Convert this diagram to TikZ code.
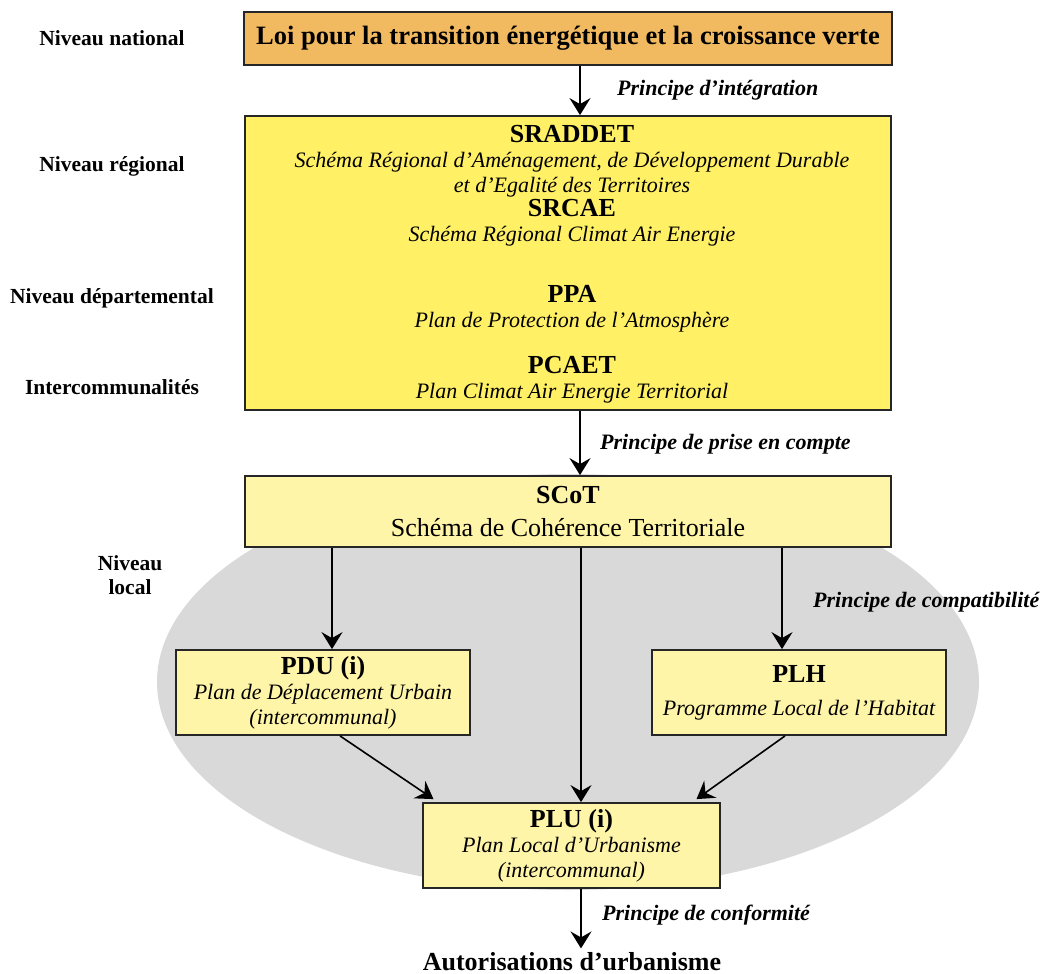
\documentclass[tikz,border=0pt]{standalone}
\usepackage{fontspec}
\setmainfont{Liberation Serif}
\usetikzlibrary{arrows.meta}
\definecolor{loiorange}{RGB}{242,186,96}
\definecolor{regjaune}{RGB}{255,240,102}
\definecolor{locjaune}{RGB}{255,245,168}
\definecolor{locgris}{RGB}{217,217,217}
\newcommand{\titre}[1]{{\fontsize{26}{30}\selectfont\bfseries\upshape #1}}
\tikzset{
  niveau/.style={font=\fontsize{21.5}{25}\selectfont\bfseries, align=center},
  principe/.style={font=\fontsize{22}{26}\selectfont\bfseries\itshape, anchor=west, inner sep=0pt},
  bloc/.style={font=\fontsize{22}{25}\selectfont\itshape, align=center, inner sep=0pt},
  boite/.style={draw=black!85, line width=1.8pt, inner sep=0pt, align=center},
  fleche/.style={-{Stealth[length=17pt,width=21pt,inset=6pt]}, line width=1.6pt},
}
\begin{document}
\begin{tikzpicture}[x=1pt, y=-1pt]
  \useasboundingbox (0,0) rectangle (1049,974);
  \fill[locgris] (568,682) ellipse [x radius=411pt, y radius=208pt];
  \node[boite, fill=loiorange, minimum width=648pt, minimum height=53pt,
    font=\fontsize{26.5}{30}\selectfont\bfseries] (loi) at (568,38.5)
    {Loi pour la transition énergétique et la croissance verte};
  \node[boite, fill=regjaune, minimum width=646pt, minimum height=294pt] (region) at (568,263) {};
  \node[bloc] (sraddet) at (572,161) {\titre{SRADDET}\\Schéma Régional d’Aménagement, de Développement Durable\\et d’Egalité des Territoires};
  \node[bloc] (srcae) at (572,223) {\titre{SRCAE}\\Schéma Régional Climat Air Energie};
  \node[bloc] (ppa) at (572,309) {\titre{PPA}\\Plan de Protection de l’Atmosphère};
  \node[bloc] (pcaet) at (572,380) {\titre{PCAET}\\Plan Climat Air Energie Territorial};
  \node[boite, fill=locjaune, minimum width=646pt, minimum height=71pt,
    font=\fontsize{26}{33}\selectfont] (scot) at (568,511.5) {\titre{SCoT}\\Schéma de Cohérence Territoriale};
  \node[boite, fill=locjaune, minimum width=294pt, minimum height=85pt,
    font=\fontsize{22}{25}\selectfont\itshape] (pdu) at (323,692.5) {\titre{PDU (i)}\\Plan de Déplacement Urbain\\(intercommunal)};
  \node[boite, fill=locjaune, minimum width=294pt, minimum height=85pt,
    font=\fontsize{22}{25}\selectfont\itshape] (plh) at (799,692.5) {\titre{PLH}\\[8pt]Programme Local de l’Habitat};
  \node[boite, fill=locjaune, minimum width=297pt, minimum height=85pt,
    font=\fontsize{22}{25}\selectfont\itshape] (plu) at (571.5,845.5) {\titre{PLU (i)}\\Plan Local d’Urbanisme\\(intercommunal)};
  \node[font=\fontsize{26}{30}\selectfont\bfseries, anchor=base] (autor) at (572,970) {Autorisations d’urbanisme};

  \node[niveau] (nat) at (112,38) {Niveau national};
  \node[niveau] (reg) at (112,166) {Niveau régional};
  \node[niveau] (dep) at (112,298) {Niveau départemental};
  \node[niveau] (inter) at (112,387) {Intercommunalités};
  \node[niveau, font=\fontsize{21.5}{24}\selectfont\bfseries] (loc) at (130,575) {Niveau\\local};

  \draw[fleche] ([xshift=12pt]loi.south) -- ([xshift=12pt]region.north);
  \draw[fleche] ([xshift=12pt]region.south) -- ([xshift=12pt]scot.north);
  \draw[fleche] ([xshift=9pt]pdu.north |- scot.south) -- ([xshift=9pt]pdu.north);
  \draw[fleche] ([xshift=-17pt]plh.north |- scot.south) -- ([xshift=-17pt]plh.north);
  \draw[fleche] ([xshift=9.5pt]plu.north |- scot.south) -- ([xshift=9.5pt]plu.north);
  \draw[fleche] ([xshift=17pt]pdu.south) -- ([xshift=-138pt,yshift=3pt]plu.north);
  \draw[fleche] ([xshift=-14pt]plh.south) -- ([xshift=125pt,yshift=3pt]plu.north);
  \draw[fleche] ([xshift=9.5pt]plu.south) -- ([xshift=9.5pt]plu.south |- autor.north);

  \node[principe] (integ) at (617,90) {Principe d’intégration};
  \node[principe] (prise) at (600,444) {Principe de prise en compte};
  \node[principe] (compat) at (813,602) {Principe de compatibilité};
  \node[principe] (conform) at (602,915) {Principe de conformité};
\end{tikzpicture}
\end{document}
